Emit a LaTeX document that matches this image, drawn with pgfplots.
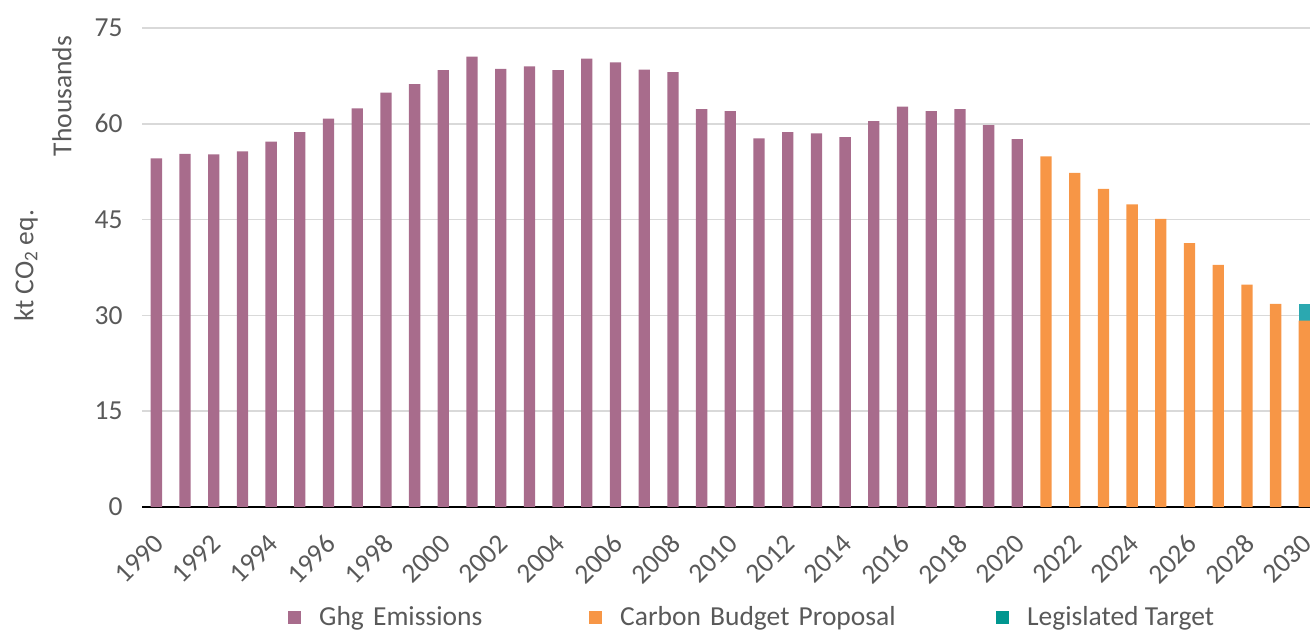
\documentclass[border=0pt]{standalone}
\usepackage{fontspec}
\setmainfont{Carlito}
\usepackage{pgfplots}
\pgfplotsset{compat=1.18}
\usepackage{pgfplotstable}
\definecolor{ghg}{RGB}{168,108,140}
\definecolor{cbp}{RGB}{247,150,70}
\definecolor{lt}{RGB}{43,168,176}
\definecolor{ltleg}{RGB}{0,150,143}
\definecolor{txt}{RGB}{89,89,89}
\definecolor{grd}{RGB}{217,217,217}
\newcommand\cf{\fontsize{27.5bp}{32bp}\selectfont}
\pgfplotsset{sqlegend/.style={legend image code/.code={\fill (0bp,-7bp) rectangle (13bp,6bp);}}}

\pgfplotstableread{
year ghg cbp lt
1990 54.6 0 0
1991 55.3 0 0
1992 55.2 0 0
1993 55.7 0 0
1994 57.2 0 0
1995 58.7 0 0
1996 60.8 0 0
1997 62.4 0 0
1998 64.9 0 0
1999 66.2 0 0
2000 68.4 0 0
2001 70.5 0 0
2002 68.6 0 0
2003 69.0 0 0
2004 68.4 0 0
2005 70.2 0 0
2006 69.6 0 0
2007 68.5 0 0
2008 68.1 0 0
2009 62.3 0 0
2010 62.0 0 0
2011 57.7 0 0
2012 58.7 0 0
2013 58.5 0 0
2014 57.9 0 0
2015 60.4 0 0
2016 62.7 0 0
2017 62.0 0 0
2018 62.3 0 0
2019 59.8 0 0
2020 57.6 0 0
2021 0 54.9 0
2022 0 52.3 0
2023 0 49.8 0
2024 0 47.4 0
2025 0 45.1 0
2026 0 41.3 0
2027 0 37.9 0
2028 0 34.8 0
2029 0 31.8 0
2030 0 29.2 2.6
}\data

\begin{document}
\begin{tikzpicture}
\useasboundingbox (0,0) rectangle (1310bp,630bp);
\begin{axis}[
  at={(142bp,123bp)}, anchor=south west,
  scale only axis, width=1168bp, height=479bp,
  xmin=1989.5, xmax=2030.2, ymin=0, ymax=75,
  ybar stacked, bar width=11.3bp,
  xtick={1990,1992,...,2030}, ytick={0,15,...,75},
  axis x line=bottom, axis y line=left,
  y axis line style={draw=none},
  x axis line style={-, draw=black, line width=1.5bp},
  major tick length=0pt,
  ymajorgrids, grid style={draw=grd, line width=1.5bp},
  tick label style={font=\cf, text=txt},
  /pgf/number format/assume math mode=true,
  /pgf/number format/1000 sep={},
  xticklabel style={yshift=-24bp, xshift=-4bp, rotate=45, anchor=north east, inner sep=1bp},
  yticklabel style={anchor=east, xshift=-16bp},
  legend columns=3,
  legend style={draw=none, fill=none, at={(0.125,-0.2296)}, anchor=west,
    inner sep=0pt, font=\cf, text=txt,
    /tikz/every odd column/.append style={column sep=16bp},
    /tikz/every even column/.append style={column sep=9bp}},
  sqlegend,
]
\addplot+[fill=ghg, draw=none, forget plot] table[x=year, y=ghg] {\data};
\addplot+[fill=cbp, draw=none, forget plot] table[x=year, y=cbp] {\data};
\addplot+[fill=lt, draw=none, forget plot] table[x=year, y=lt] {\data};
\addlegendimage{fill=ghg, draw=none}
\addlegendentry[text width=259bp]{Ghg Emissions}
\addlegendimage{fill=cbp, draw=none}
\addlegendentry[text width=365bp]{Carbon Budget Proposal}
\addlegendimage{fill=ltleg, draw=none}
\addlegendentry{Legislated Target}
\end{axis}
\node[rotate=90, text=txt, font=\cf] at (26bp,364bp) {kt CO\textsubscript{2} eq.};
\node[rotate=90, text=txt, font=\cf] at (62bp,534bp) {Thousands};
\end{tikzpicture}
\end{document}
